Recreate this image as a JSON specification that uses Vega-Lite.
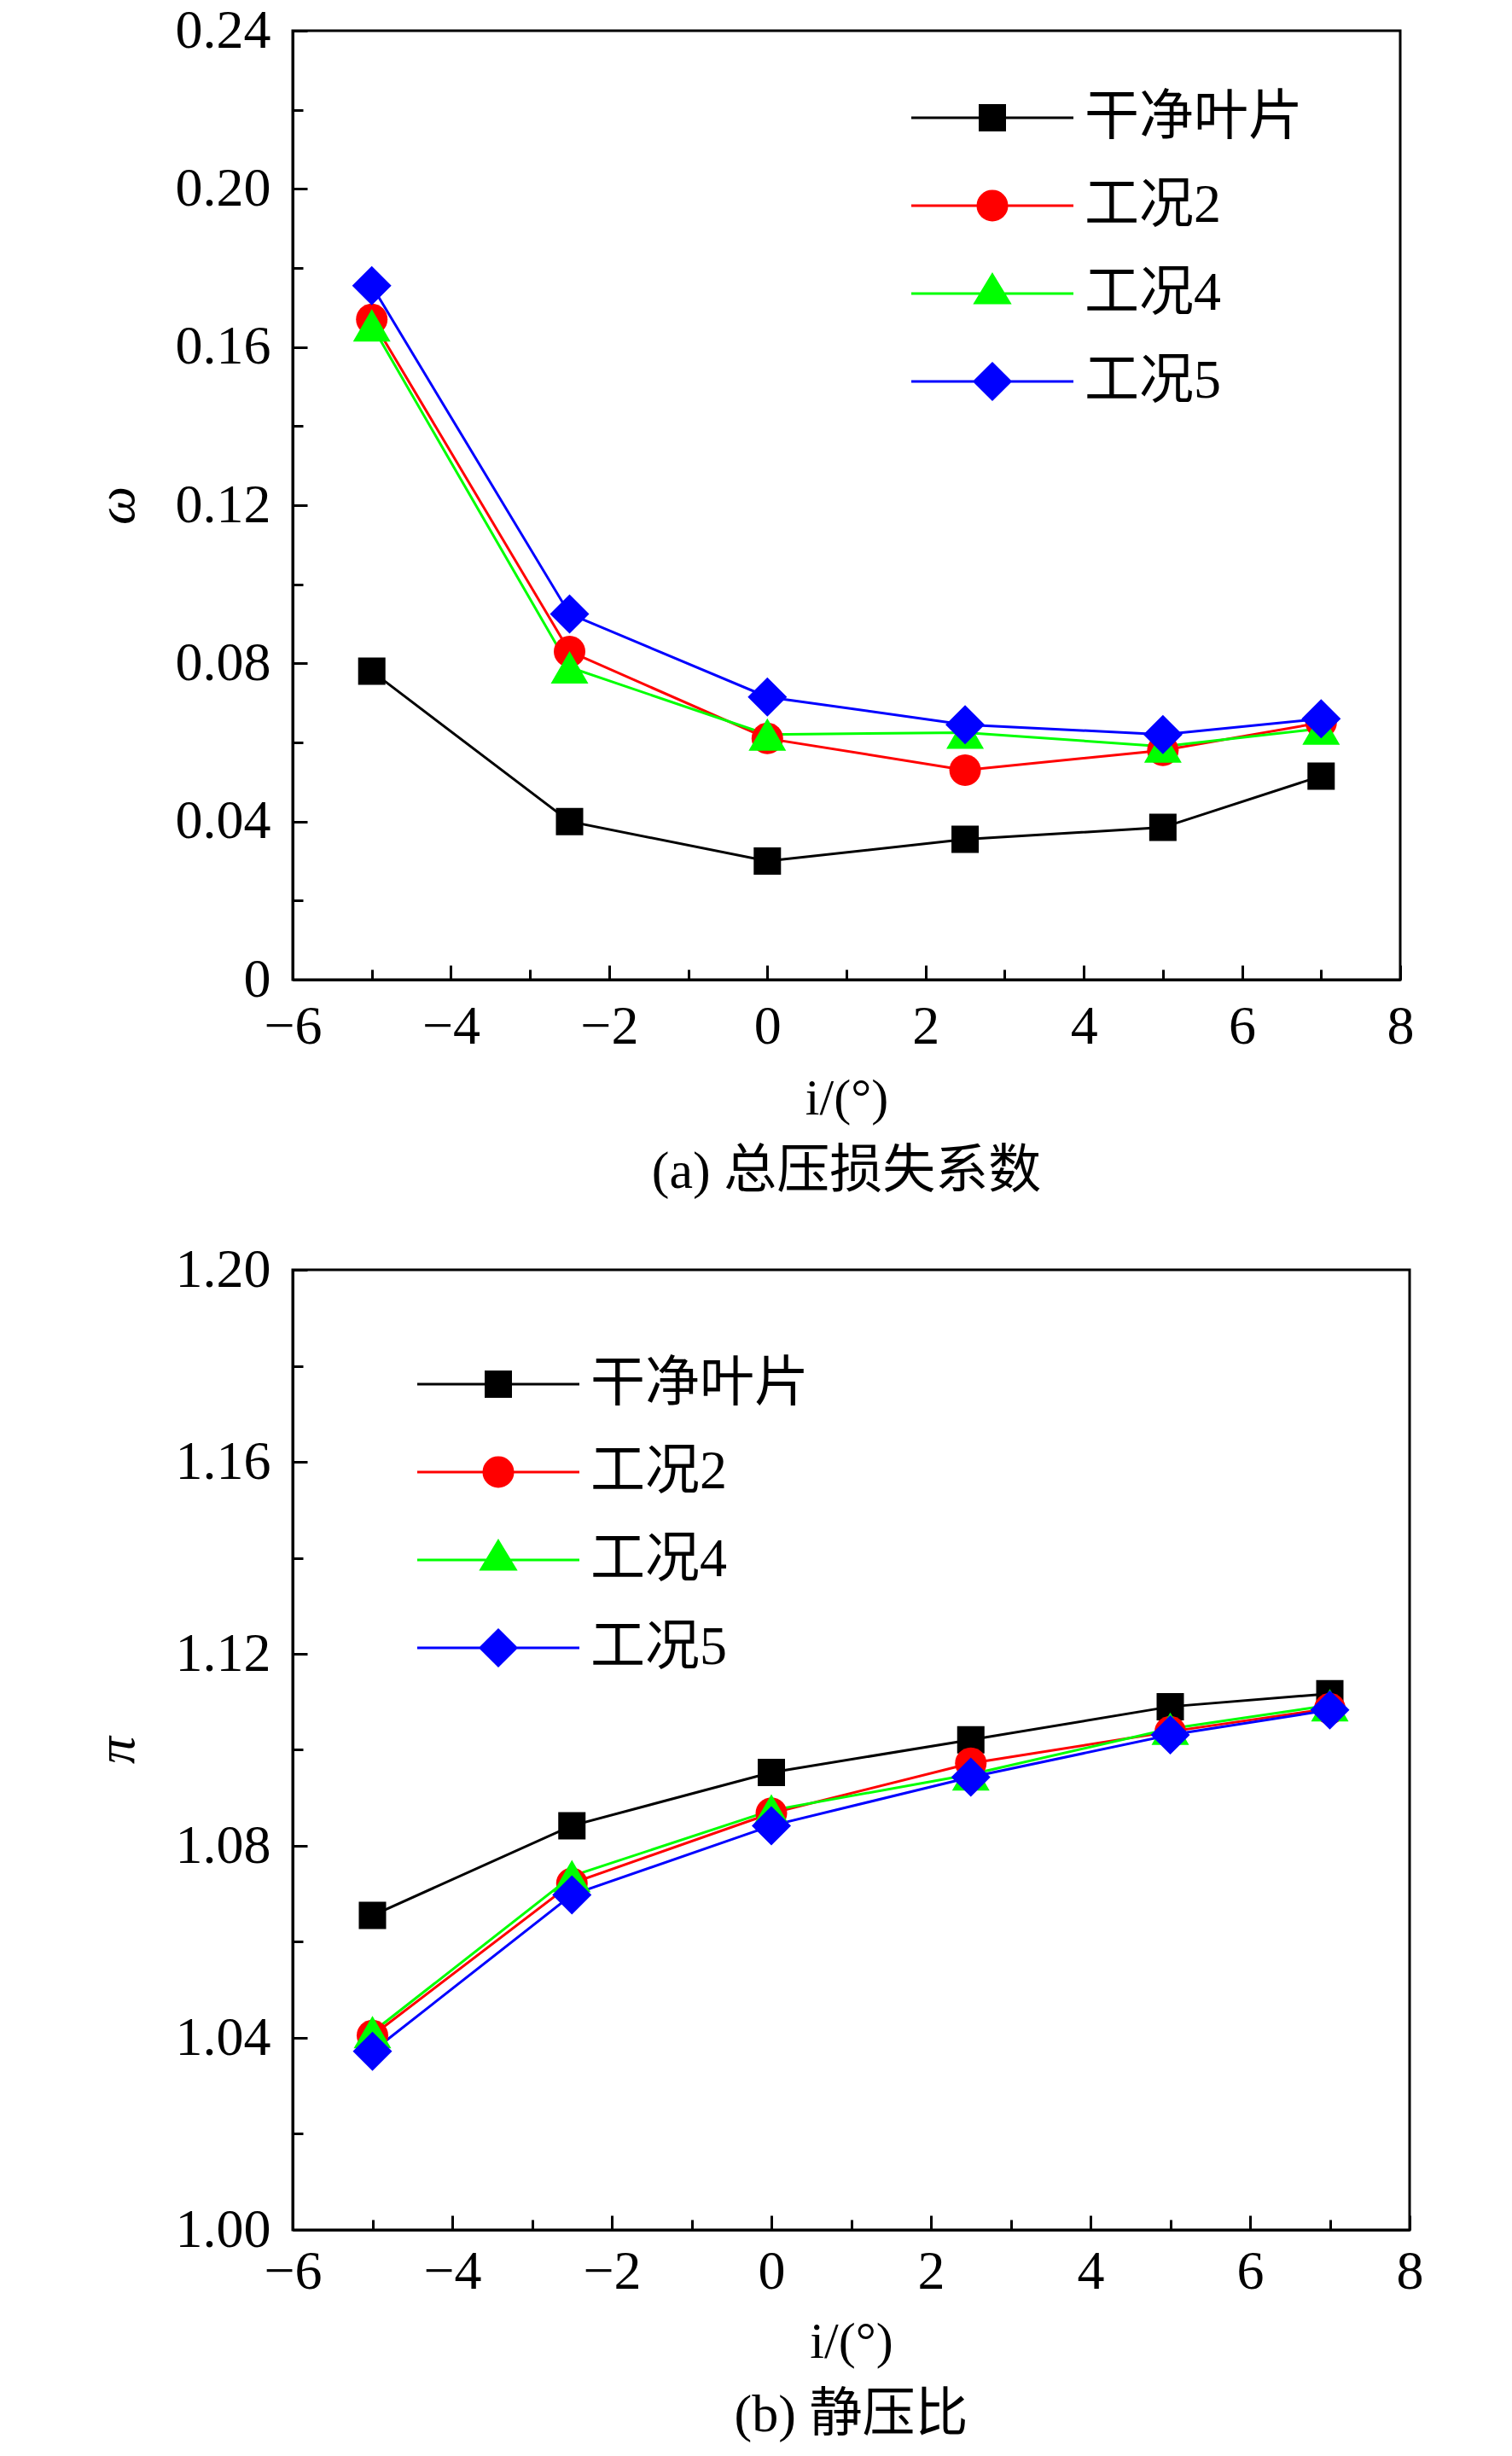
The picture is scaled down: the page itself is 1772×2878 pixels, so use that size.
{
  "$schema": "https://vega.github.io/schema/vega-lite/v6.json",
  "padding": {"left": 103, "top": 2, "right": 5, "bottom": 0},
  "spacing": 48,
  "datasets": {
    "omega": [
      {"i": -5, "series": "干净叶片", "v": 0.078},
      {"i": -2.5, "series": "干净叶片", "v": 0.040},
      {"i": 0, "series": "干净叶片", "v": 0.030},
      {"i": 2.5, "series": "干净叶片", "v": 0.0355},
      {"i": 5, "series": "干净叶片", "v": 0.0385},
      {"i": 7, "series": "干净叶片", "v": 0.0515},
      {"i": -5, "series": "工况2", "v": 0.167},
      {"i": -2.5, "series": "工况2", "v": 0.083},
      {"i": 0, "series": "工况2", "v": 0.061},
      {"i": 2.5, "series": "工况2", "v": 0.053},
      {"i": 5, "series": "工况2", "v": 0.058},
      {"i": 7, "series": "工况2", "v": 0.065},
      {"i": -5, "series": "工况4", "v": 0.1655},
      {"i": -2.5, "series": "工况4", "v": 0.079},
      {"i": 0, "series": "工况4", "v": 0.062},
      {"i": 2.5, "series": "工况4", "v": 0.0625},
      {"i": 5, "series": "工况4", "v": 0.059},
      {"i": 7, "series": "工况4", "v": 0.0635},
      {"i": -5, "series": "工况5", "v": 0.1755},
      {"i": -2.5, "series": "工况5", "v": 0.0925},
      {"i": 0, "series": "工况5", "v": 0.0715},
      {"i": 2.5, "series": "工况5", "v": 0.0645},
      {"i": 5, "series": "工况5", "v": 0.062},
      {"i": 7, "series": "工况5", "v": 0.066}
    ],
    "pi": [
      {"i": -5, "series": "干净叶片", "v": 1.0655},
      {"i": -2.5, "series": "干净叶片", "v": 1.0842},
      {"i": 0, "series": "干净叶片", "v": 1.0953},
      {"i": 2.5, "series": "干净叶片", "v": 1.1021},
      {"i": 5, "series": "干净叶片", "v": 1.109},
      {"i": 7, "series": "干净叶片", "v": 1.1117},
      {"i": -5, "series": "工况2", "v": 1.0405},
      {"i": -2.5, "series": "工况2", "v": 1.0722},
      {"i": 0, "series": "工况2", "v": 1.0868},
      {"i": 2.5, "series": "工况2", "v": 1.0972},
      {"i": 5, "series": "工况2", "v": 1.1038},
      {"i": 7, "series": "工况2", "v": 1.1086},
      {"i": -5, "series": "工况4", "v": 1.0412},
      {"i": -2.5, "series": "工况4", "v": 1.0737},
      {"i": 0, "series": "工况4", "v": 1.0874},
      {"i": 2.5, "series": "工况4", "v": 1.0949},
      {"i": 5, "series": "工况4", "v": 1.1044},
      {"i": 7, "series": "工况4", "v": 1.1093},
      {"i": -5, "series": "工况5", "v": 1.0372},
      {"i": -2.5, "series": "工况5", "v": 1.0698},
      {"i": 0, "series": "工况5", "v": 1.0842},
      {"i": 2.5, "series": "工况5", "v": 1.0943},
      {"i": 5, "series": "工况5", "v": 1.1031},
      {"i": 7, "series": "工况5", "v": 1.1083}
    ]
  },
  "vconcat": [
    {
      "width": 1298,
      "height": 1112,
      "data": {"name": "omega"},
      "title": {"text": "(a) 总压损失系数", "orient": "bottom", "anchor": "middle", "frame": "group", "offset": 26},
      "encoding": {
        "x": {
          "field": "i", "type": "quantitative",
          "scale": {"domain": [-6, 8], "nice": false, "zero": false},
          "axis": {
            "title": "i/(°)", "titlePadding": 18,
            "values": [-6, -5, -4, -3, -2, -1, 0, 1, 2, 3, 4, 5, 6, 7, 8],
            "labelExpr": "datum.value % 2 === 0 ? datum.label : ''",
            "tickSize": {"condition": {"test": "datum.value % 2 === 0", "value": -17}, "value": -12},
            "labelPadding": 40
          }
        },
        "y": {
          "field": "v", "type": "quantitative",
          "scale": {"domain": [0, 0.24], "nice": false, "zero": false},
          "axis": {
            "title": "ω", "titleFontStyle": "italic", "titleFontSize": 64, "titlePadding": 36,
            "values": [0, 0.02, 0.04, 0.06, 0.08, 0.1, 0.12, 0.14, 0.16, 0.18, 0.2, 0.22, 0.24],
            "labelExpr": "round(datum.value * 100) % 4 === 0 ? (datum.value === 0 ? '0' : format(datum.value, '.2f')) : ''",
            "tickSize": {"condition": {"test": "round(datum.value * 100) % 4 === 0", "value": -17}, "value": -12},
            "labelPadding": 43
          }
        }
      },
      "layer": [
        {
          "mark": {"type": "point", "opacity": 0, "size": 400},
          "encoding": {
            "fill": {"field": "series", "type": "nominal", "scale": {"domain": ["干净叶片", "工况2", "工况4", "工况5"], "range": ["#000000", "#ff0000", "#00ff00", "#0000ff"]},
              "legend": {"title": null, "orient": "none", "legendX": 788, "legendY": 70, "labelFont": "Liberation Serif, Noto Sans CJK SC", "labelFontSize": 64, "labelColor": "#000000", "labelOffset": 76, "labelLimit": 600, "rowPadding": 39, "padding": 0, "symbolSize": 400, "symbolStrokeWidth": 3, "symbolOpacity": 1}},
            "stroke": {"field": "series", "type": "nominal", "scale": {"domain": ["干净叶片", "工况2", "工况4", "工况5"], "range": ["#000000", "#ff0000", "#00ff00", "#0000ff"]},
              "legend": {"title": null, "orient": "none", "legendX": 788, "legendY": 70, "labelFont": "Liberation Serif, Noto Sans CJK SC", "labelFontSize": 64, "labelColor": "#000000", "labelOffset": 76, "labelLimit": 600, "rowPadding": 39, "padding": 0, "symbolSize": 400, "symbolStrokeWidth": 3, "symbolOpacity": 1}},
            "shape": {"field": "series", "type": "nominal", "scale": {"domain": ["干净叶片", "工况2", "工况4", "工况5"], "range": ["M-9.5,0H9.5M-1.45,-1.45H1.45V1.45H-1.45Z", "M-9.5,0H9.5M1.7,0A1.7,1.7,0,1,1,-1.7,0A1.7,1.7,0,1,1,1.7,0Z", "M-9.5,0H9.5M0,-2.2L2,1.1H-2Z", "M-9.5,0H9.5M0,-2.1L2.1,0L0,2.1L-2.1,0Z"]},
              "legend": {"title": null, "orient": "none", "legendX": 788, "legendY": 70, "labelFont": "Liberation Serif, Noto Sans CJK SC", "labelFontSize": 64, "labelColor": "#000000", "labelOffset": 76, "labelLimit": 600, "rowPadding": 39, "padding": 0, "symbolSize": 400, "symbolStrokeWidth": 3, "symbolOpacity": 1}}
          }
        },
        {
          "mark": {"type": "line", "strokeWidth": 3},
          "encoding": {
            "color": {"field": "series", "type": "nominal", "scale": {"range": ["#ff0000", "#00ff00", "#0000ff", "#000000"]}, "legend": null}
          }
        },
        {
          "transform": [{"filter": "datum.series === '干净叶片'"}],
          "mark": {"type": "point", "filled": true, "opacity": 1, "size": 400, "color": "#000000", "shape": "M-1.6,-1.6H1.6V1.6H-1.6Z"},
          "encoding": {}
        },
        {
          "transform": [{"filter": "datum.series === '工况2'"}],
          "mark": {"type": "point", "filled": true, "opacity": 1, "size": 400, "color": "#ff0000", "shape": "M1.85,0A1.85,1.85,0,1,1,-1.85,0A1.85,1.85,0,1,1,1.85,0Z"},
          "encoding": {}
        },
        {
          "transform": [{"filter": "datum.series === '工况4'"}],
          "mark": {"type": "point", "filled": true, "opacity": 1, "size": 400, "color": "#00ff00", "shape": "M0,-1.9L2.2,1.9H-2.2Z"},
          "encoding": {}
        },
        {
          "transform": [{"filter": "datum.series === '工况5'"}],
          "mark": {"type": "point", "filled": true, "opacity": 1, "size": 400, "color": "#0000ff", "shape": "M0,-2.3L2.3,0L0,2.3L-2.3,0Z"},
          "encoding": {}
        }
      ]
    },
    {
      "width": 1309,
      "height": 1125,
      "data": {"name": "pi"},
      "title": {"text": "(b) 静压比", "orient": "bottom", "anchor": "middle", "frame": "group", "offset": 26},
      "encoding": {
        "x": {
          "field": "i", "type": "quantitative",
          "scale": {"domain": [-6, 8], "nice": false, "zero": false},
          "axis": {
            "title": "i/(°)", "titlePadding": 16,
            "values": [-6, -5, -4, -3, -2, -1, 0, 1, 2, 3, 4, 5, 6, 7, 8],
            "labelExpr": "datum.value % 2 === 0 ? datum.label : ''",
            "tickSize": {"condition": {"test": "datum.value % 2 === 0", "value": -17}, "value": -12},
            "labelPadding": 34
          }
        },
        "y": {
          "field": "v", "type": "quantitative",
          "scale": {"domain": [1, 1.2], "nice": false, "zero": false},
          "axis": {
            "title": "π", "titleFontStyle": "italic", "titleFontSize": 64, "titlePadding": 36,
            "values": [1, 1.02, 1.04, 1.06, 1.08, 1.1, 1.12, 1.14, 1.16, 1.18, 1.2],
            "labelExpr": "round(datum.value * 100) % 4 === 0 ? format(datum.value, '.2f') : ''",
            "tickSize": {"condition": {"test": "round(datum.value * 100) % 4 === 0", "value": -17}, "value": -12},
            "labelPadding": 43
          }
        }
      },
      "layer": [
        {
          "mark": {"type": "point", "opacity": 0, "size": 400},
          "encoding": {
            "fill": {"field": "series", "type": "nominal", "scale": {"domain": ["干净叶片", "工况2", "工况4", "工况5"], "range": ["#000000", "#ff0000", "#00ff00", "#0000ff"]},
              "legend": {"title": null, "orient": "none", "legendX": 209, "legendY": 102, "labelFont": "Liberation Serif, Noto Sans CJK SC", "labelFontSize": 64, "labelColor": "#000000", "labelOffset": 76, "labelLimit": 600, "rowPadding": 39, "padding": 0, "symbolSize": 400, "symbolStrokeWidth": 3, "symbolOpacity": 1}},
            "stroke": {"field": "series", "type": "nominal", "scale": {"domain": ["干净叶片", "工况2", "工况4", "工况5"], "range": ["#000000", "#ff0000", "#00ff00", "#0000ff"]},
              "legend": {"title": null, "orient": "none", "legendX": 209, "legendY": 102, "labelFont": "Liberation Serif, Noto Sans CJK SC", "labelFontSize": 64, "labelColor": "#000000", "labelOffset": 76, "labelLimit": 600, "rowPadding": 39, "padding": 0, "symbolSize": 400, "symbolStrokeWidth": 3, "symbolOpacity": 1}},
            "shape": {"field": "series", "type": "nominal", "scale": {"domain": ["干净叶片", "工况2", "工况4", "工况5"], "range": ["M-9.5,0H9.5M-1.45,-1.45H1.45V1.45H-1.45Z", "M-9.5,0H9.5M1.7,0A1.7,1.7,0,1,1,-1.7,0A1.7,1.7,0,1,1,1.7,0Z", "M-9.5,0H9.5M0,-2.2L2,1.1H-2Z", "M-9.5,0H9.5M0,-2.1L2.1,0L0,2.1L-2.1,0Z"]},
              "legend": {"title": null, "orient": "none", "legendX": 209, "legendY": 102, "labelFont": "Liberation Serif, Noto Sans CJK SC", "labelFontSize": 64, "labelColor": "#000000", "labelOffset": 76, "labelLimit": 600, "rowPadding": 39, "padding": 0, "symbolSize": 400, "symbolStrokeWidth": 3, "symbolOpacity": 1}}
          }
        },
        {
          "mark": {"type": "line", "strokeWidth": 3},
          "encoding": {
            "color": {"field": "series", "type": "nominal", "scale": {"range": ["#ff0000", "#00ff00", "#0000ff", "#000000"]}, "legend": null}
          }
        },
        {
          "transform": [{"filter": "datum.series === '干净叶片'"}],
          "mark": {"type": "point", "filled": true, "opacity": 1, "size": 400, "color": "#000000", "shape": "M-1.6,-1.6H1.6V1.6H-1.6Z"},
          "encoding": {}
        },
        {
          "transform": [{"filter": "datum.series === '工况2'"}],
          "mark": {"type": "point", "filled": true, "opacity": 1, "size": 400, "color": "#ff0000", "shape": "M1.85,0A1.85,1.85,0,1,1,-1.85,0A1.85,1.85,0,1,1,1.85,0Z"},
          "encoding": {}
        },
        {
          "transform": [{"filter": "datum.series === '工况4'"}],
          "mark": {"type": "point", "filled": true, "opacity": 1, "size": 400, "color": "#00ff00", "shape": "M0,-1.9L2.2,1.9H-2.2Z"},
          "encoding": {}
        },
        {
          "transform": [{"filter": "datum.series === '工况5'"}],
          "mark": {"type": "point", "filled": true, "opacity": 1, "size": 400, "color": "#0000ff", "shape": "M0,-2.3L2.3,0L0,2.3L-2.3,0Z"},
          "encoding": {}
        }
      ]
    }
  ],
  "resolve": {
    "scale": {"color": "independent", "fill": "independent", "stroke": "independent", "shape": "independent"},
    "legend": {"color": "independent", "fill": "independent", "stroke": "independent", "shape": "independent"}
  },
  "config": {
    "view": {"stroke": "#000000", "strokeWidth": 3},
    "font": "Liberation Serif",
    "title": {"font": "Liberation Serif, Noto Sans CJK SC", "fontSize": 62, "fontWeight": "normal", "color": "#000000"},
    "axis": {
      "domainColor": "#000000", "domainWidth": 3,
      "tickColor": "#000000", "tickWidth": 3,
      "labelFont": "Liberation Serif", "labelFontSize": 64, "labelColor": "#000000",
      "titleFont": "Liberation Serif", "titleFontSize": 60, "titleFontWeight": "normal", "titleColor": "#000000",
      "grid": false, "labelFlush": false, "labelOverlap": false, "labelBound": false
    }
  }
}
